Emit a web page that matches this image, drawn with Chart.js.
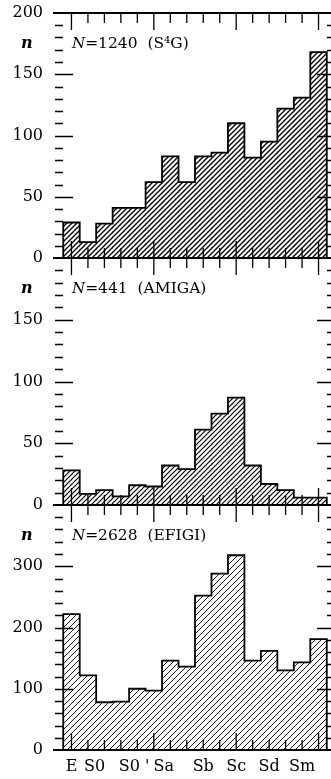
<!DOCTYPE html>
<html>
<head>
<meta charset="utf-8">
<script src="https://cdn.jsdelivr.net/npm/chart.js@4.4.1/dist/chart.umd.min.js"></script>
<style>
  html, body { margin: 0; padding: 0; background: #fff; overflow: hidden; }
  body { width: 331px; height: 779px; position: relative; }
  canvas { position: absolute; left: 0; }
</style>
</head>
<body>
<canvas id="s4g" width="336" height="270" style="top:0px"></canvas>
<canvas id="amiga" width="336" height="271" style="top:246px"></canvas>
<canvas id="efigi" width="336" height="286" style="top:493px"></canvas>
<script>
// one bin per Hubble T-type, -5 (E) ... 10
const bins = [0, 1, 2, 3, 4, 5, 6, 7, 8, 9, 10, 11, 12, 13, 14, 15];
const s4gCounts = [29, 13, 28, 41, 41, 62, 83, 62, 83, 86, 110, 82, 95, 122, 131, 168];
const amigaCounts = [28, 9, 12, 7, 16, 15, 32, 29, 61, 74, 87, 32, 17, 12, 6, 6];
const efigiCounts = [222, 122, 78, 79, 100, 97, 146, 136, 252, 288, 318, 146, 162, 130, 143, 181];

const typeLabels = ['E', 'S0', "S0 '", 'Sa', 'Sb', 'Sc', 'Sd', 'Sm'];
const typeLabelAt = [0, 1.4, 3.8, 5.6, 8, 10, 12, 14];
const majorBins = [0, 5, 10, 15];

const sampleSizes = [1240, 441, 2628];
const sampleNames = ['S\u2074G', 'AMIGA', 'EFIGI'];

function hatch(gap, lw) {
    const c = document.createElement('canvas');
    c.width = gap;
    c.height = gap;
    const g = c.getContext('2d');
    g.strokeStyle = '#000';
    g.lineWidth = lw;
    g.beginPath();
    g.moveTo(0, gap); g.lineTo(gap, 0);
    g.moveTo(-1, 1); g.lineTo(1, -1);
    g.moveTo(gap - 1, gap + 1); g.lineTo(gap + 1, gap - 1);
    g.stroke();
    return g.createPattern(c, 'repeat');
}

// step outline of the histogram, built from the bin counts
function outline(counts) {
    const pts = [{ x: -0.5, y: 0 }];
    counts.forEach((v, i) => pts.push({ x: bins[i] - 0.5, y: v }));
    pts.push({ x: bins[bins.length - 1] + 0.5, y: counts[counts.length - 1] });
    pts.push({ x: bins[bins.length - 1] + 0.5, y: 0 });
    return pts;
}

function framePlugin(p) {
    return {
        id: 'frame',
        afterDraw(chart) {
            const { ctx, chartArea: a, scales: { x, y } } = chart;
            ctx.save();
            ctx.strokeStyle = '#000';
            ctx.lineWidth = 2;
            ctx.beginPath();
            ctx.moveTo(53, a.bottom); ctx.lineTo(chart.width, a.bottom);
            if (p.topLine) { ctx.moveTo(53, a.top); ctx.lineTo(chart.width, a.top); }
            ctx.stroke();

            ctx.lineWidth = 1.3;
            ctx.beginPath();
            bins.forEach(b => {
                const px = x.getPixelForValue(b);
                const len = majorBins.includes(b) ? 17 : 10;
                ctx.moveTo(px, a.top); ctx.lineTo(px, a.top + len);
                ctx.moveTo(px, a.bottom); ctx.lineTo(px, a.bottom - len);
            });
            for (let v = p.step; v < y.max; v += p.step) {
                const py = Math.round(y.getPixelForValue(v)) + 0.5;
                const len = v % p.major === 0 ? 18 : 8;
                ctx.moveTo(a.left, py); ctx.lineTo(a.left + len, py);
                ctx.moveTo(a.right, py); ctx.lineTo(a.right - len, py);
            }
            ctx.stroke();

            const ty = a.top + 31;
            ctx.fillStyle = '#000';
            ctx.textBaseline = 'middle';
            ctx.font = 'italic bold 16px "DejaVu Serif"';
            ctx.fillText('n', 21, ty);
            ctx.font = 'italic 15px "DejaVu Serif"';
            ctx.fillText('N', 72, ty);
            const w = ctx.measureText('N').width;
            ctx.font = '15.5px "DejaVu Serif"';
            ctx.fillText('=' + p.size + '  (' + p.name + ')', 72 + w, ty);
            ctx.restore();
        }
    };
}

function makePanel(id, counts, gap, lw, yMax, labelStep, minorStep, showTop, showX, idx) {
    const ctx = document.getElementById(id).getContext('2d');
    return new Chart(ctx, {
        type: 'bar',
        data: {
            datasets: [{
                type: 'line',
                data: outline(counts),
                stepped: 'before',
                borderColor: '#000',
                borderWidth: 1.8,
                pointRadius: 0,
                fill: false,
                order: 1
            }, {
                type: 'bar',
                data: counts.map((v, i) => ({ x: bins[i], y: v })),
                backgroundColor: hatch(gap, lw),
                borderWidth: 0,
                barPercentage: 1,
                categoryPercentage: 1,
                order: 2
            }]
        },
        options: {
            responsive: false,
            animation: false,
            layout: { padding: { top: idx === 0 ? 13 : 12, bottom: showX ? 0 : 12, left: 0, right: 1 } },
            plugins: { legend: { display: false }, tooltip: { enabled: false } },
            scales: {
                x: {
                    type: 'linear',
                    min: -1,
                    max: 16,
                    offset: false,
                    display: showX,
                    grid: { display: false, drawTicks: false },
                    border: { display: false },
                    afterBuildTicks: s => { s.ticks = typeLabelAt.map(v => ({ value: v })); },
                    afterFit: s => {
                        if (showX) s.height = 29;
                        s.paddingLeft = 0;
                        s.paddingRight = 0;
                    },
                    ticks: {
                        autoSkip: false,
                        maxRotation: 0,
                        padding: 7,
                        color: '#000',
                        font: { family: 'DejaVu Serif', size: 16 },
                        callback: (v, i) => typeLabels[i]
                    }
                },
                y: {
                    min: 0,
                    max: yMax,
                    afterFit: s => {
                        s.width = 55;
                        s.paddingTop = 0;
                        s.paddingBottom = 0;
                    },
                    grid: { display: false, drawTicks: false },
                    border: { display: false },
                    ticks: {
                        stepSize: labelStep,
                        padding: 12,
                        color: '#000',
                        font: { family: 'DejaVu Serif', size: 16 },
                        callback: v => (v === yMax && !showTop) ? '' : v
                    }
                }
            }
        },
        plugins: [framePlugin({
            topLine: idx === 0,
            step: minorStep,
            major: labelStep,
            size: sampleSizes[idx],
            name: sampleNames[idx]
        })]
    });
}

makePanel('s4g', s4gCounts, 5, 1.35, 200, 50, 10, true, false, 0);
makePanel('amiga', amigaCounts, 5, 1.2, 200, 50, 10, false, false, 1);
makePanel('efigi', efigiCounts, 6, 0.9, 400, 100, 20, false, true, 2);
</script>
</body>
</html>
